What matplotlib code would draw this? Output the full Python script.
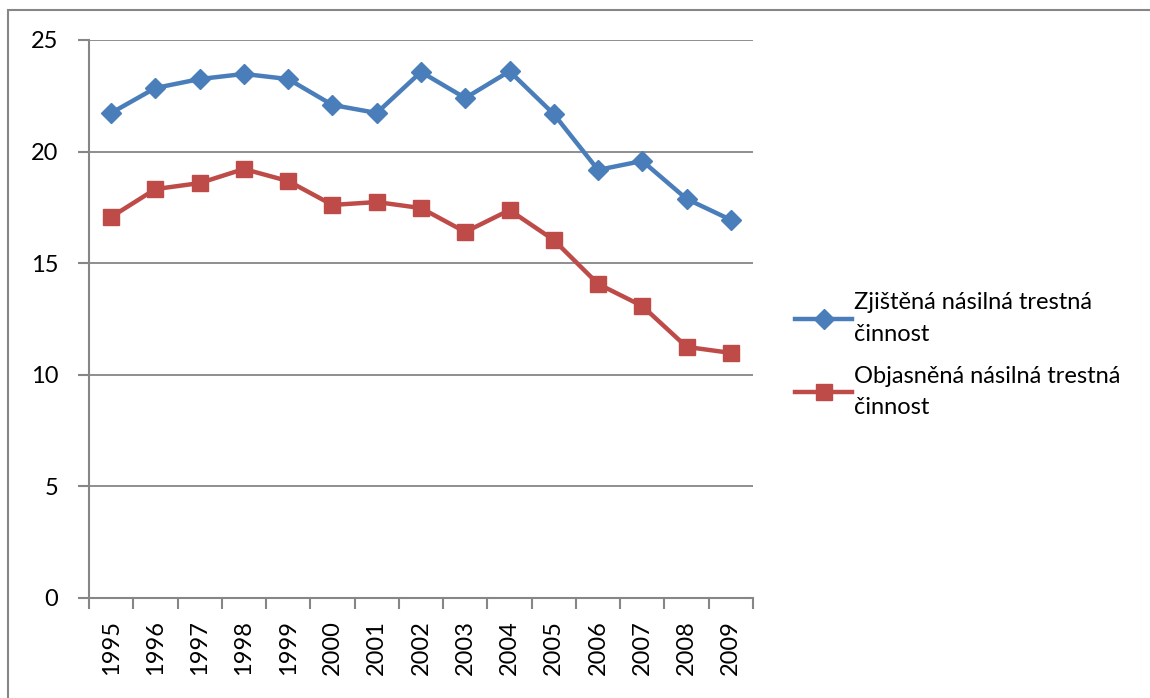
import matplotlib.pyplot as plt
from matplotlib.patches import Rectangle

years = ["1995", "1996", "1997", "1998", "1999", "2000", "2001", "2002",
         "2003", "2004", "2005", "2006", "2007", "2008", "2009"]
detected = [21.73, 22.85, 23.25, 23.48, 23.25, 22.09, 21.73, 23.57,
            22.40, 23.60, 21.68, 19.18, 19.58, 17.88, 16.94]
solved = [17.07, 18.32, 18.59, 19.22, 18.68, 17.61, 17.74, 17.47,
          16.40, 17.38, 16.04, 14.07, 13.08, 11.25, 10.98]
label_detected = "Zjištěná násilná trestná\nčinnost"
label_solved = "Objasněná násilná trestná\nčinnost"

W, H = 1150, 698
plt.rcParams["font.family"] = ["Lato", "DejaVu Sans"]

fig = plt.figure(figsize=(W / 100, H / 100), dpi=100)
ax = fig.add_axes([89 / W, 1 - 598 / H, (753 - 89) / W, (598 - 40) / H])

x = list(range(len(years)))
ax.plot(x, detected, color="#4A7EBB", lw=3.2, marker="D", ms=10,
        label=label_detected, zorder=3)
ax.plot(x, solved, color="#BE4B48", lw=3.2, marker="s", ms=12,
        label=label_solved, zorder=3)

ax.set_xlim(-0.5, len(years) - 0.5)
ax.set_ylim(0, 25)
ax.set_yticks([0, 5, 10, 15, 20, 25])
ax.set_xticks([i - 0.5 for i in range(len(years) + 1)], minor=False)
ax.set_xticklabels([])
ax.set_xticks(x, minor=True)
ax.set_xticklabels(years, minor=True, rotation=90, fontsize=17)
ax.tick_params(axis="x", which="minor", length=0, pad=16)
ax.tick_params(axis="x", which="major", length=8, width=1.5, color="#868686")
ax.tick_params(axis="y", length=8, width=1.5, color="#868686",
               labelsize=17, pad=14)

ax.grid(axis="y", color="#868686", lw=1.3)
ax.set_axisbelow(True)
for s in ["top", "right"]:
    ax.spines[s].set_visible(False)
for s in ["left", "bottom"]:
    ax.spines[s].set_color("#868686")
    ax.spines[s].set_linewidth(1.5)

leg = ax.legend(loc="upper left", bbox_to_anchor=(786 / W, 1 - 283 / H),
                bbox_transform=fig.transFigure, frameon=False, fontsize=17,
                handlelength=2.4, handletextpad=0.1, labelspacing=0.9,
                borderaxespad=0)
for t in leg.get_texts():
    t.set_linespacing(1.6)

fig.patches.append(Rectangle((8 / W, -0.05), 1.1, 1.05 - 10 / H,
                             transform=fig.transFigure, fill=False,
                             edgecolor="#868686", lw=1.5))

fig.savefig("out.png", dpi=100)
